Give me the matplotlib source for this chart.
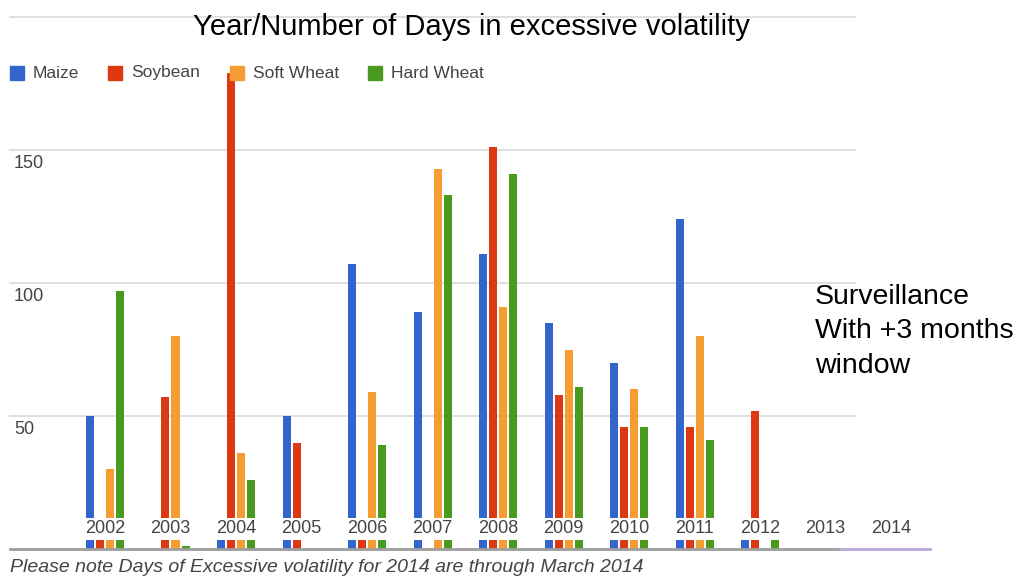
import numpy as np
import matplotlib
matplotlib.use('Agg')
import matplotlib.pyplot as plt
from matplotlib.patches import Rectangle

plt.rcParams['font.family'] = ['Liberation Sans', 'DejaVu Sans']

# Data
years = ['2002', '2003', '2004', '2005', '2006', '2007', '2008',
         '2009', '2010', '2011', '2012', '2013', '2014']
maize = [50, 0, 4, 50, 107, 89, 111, 85, 70, 124, 4, 0, 0]
soybean = [4, 57, 179, 40, 4, 0, 151, 58, 46, 46, 52, 0, 0]
soft_wheat = [30, 80, 36, 0, 59, 143, 91, 75, 60, 80, 0, 0, 0]
hard_wheat = [97, 1, 26, 0, 39, 133, 141, 61, 46, 41, 4, 0, 0]
series_names = ['Maize', 'Soybean', 'Soft Wheat', 'Hard Wheat']
y_ticks = [50, 100, 150]

colors = ['#3366cc', '#dc3912', '#f59d33', '#4a9a1f']
W, H = 1025, 578

fig = plt.figure(figsize=(W / 100, H / 100), dpi=100)
ax = fig.add_axes([10 / W, 29 / H, 925 / W, 532 / H])
ax.set_xlim(-1.45, 12.67)
ax.set_ylim(0, 200)
ax.axis('off')

# Bars
x = np.arange(len(years))
pitch = 10 / 65.5
width = 8 / 65.5
for i, (vals, col) in enumerate(zip([maize, soybean, soft_wheat, hard_wheat], colors)):
    ax.bar(x + (i - 1.5) * pitch, vals, width=width, color=col, zorder=2)

# Gridlines
for v in y_ticks + [200]:
    ax.plot([-1.45, 11.45], [v, v], color='#dcdcdc', lw=1.3, zorder=1, clip_on=False)
for v in y_ticks:
    ax.text(-1.39, v - 5, str(v), ha='left', va='center', fontsize=13, color='#444444')

# Baseline
ax.plot([-1.45, 11.22], [0, 0], color='#9e9e9e', lw=2, zorder=3, clip_on=False)
ax.plot([11.22, 12.6], [0, 0], color='#b9a9d9', lw=2, zorder=3, clip_on=False)

# Year labels with white boxes sitting on the bars
for xi, yr in zip(x, years):
    ax.text(xi, 7.6, yr, ha='center', va='center', fontsize=13, color='#444444',
            bbox=dict(facecolor='white', edgecolor='none', pad=1.8), zorder=4)

# Legend drawn by hand
leg_x = [10, 108, 230, 368]
for lx, name, col in zip(leg_x, series_names, colors):
    fig.add_artist(Rectangle((lx / W, 1 - 80 / H), 14 / W, 14 / H,
                             transform=fig.transFigure, color=col))
    fig.text((lx + 23) / W, 1 - 73 / H, name, ha='left', va='center',
             fontsize=12.5, color='#444444')

# Title and notes
fig.text(471.5 / W, 1 - 27 / H, 'Year/Number of Days in excessive volatility',
         ha='center', va='center', fontsize=21, color='black')
fig.text(815 / W, 1 - 284 / H, 'Surveillance\nWith +3 months\nwindow',
         ha='left', va='top', fontsize=20.5, color='black', linespacing=1.42)
fig.text(10 / W, 1 - 567 / H,
         'Please note Days of Excessive volatility for 2014 are through March 2014',
         ha='left', va='center', fontsize=14, style='italic', color='#444444')

plt.savefig('out.png', dpi=100)
